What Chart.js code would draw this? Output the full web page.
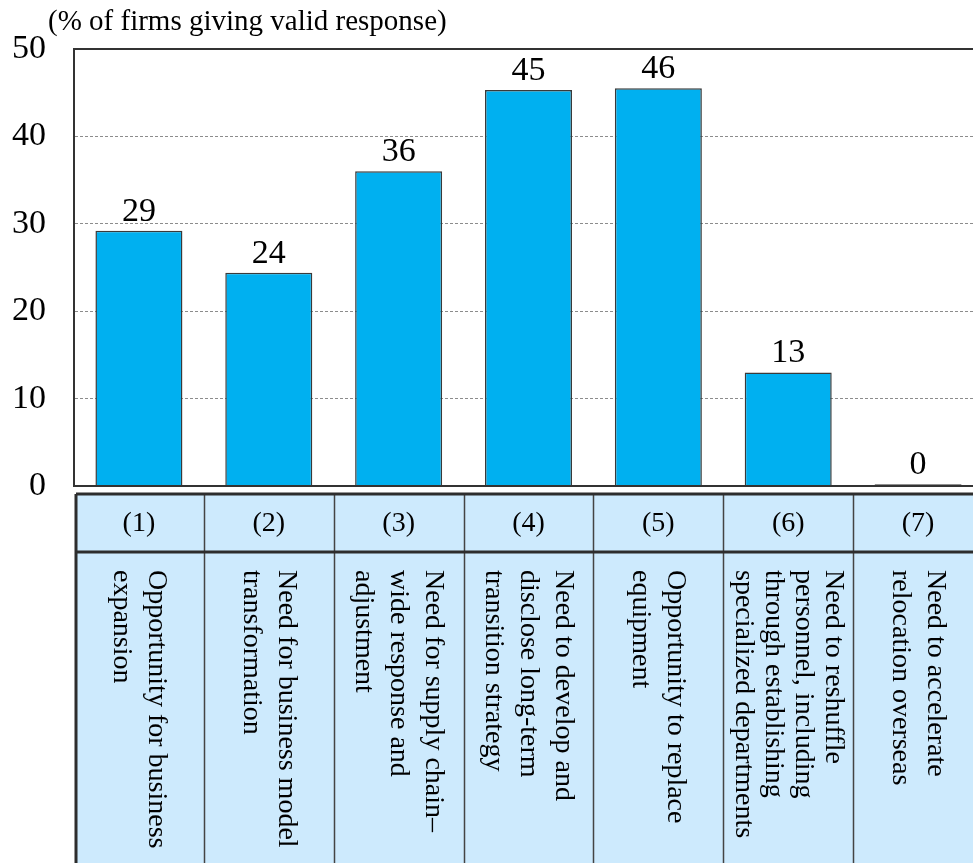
<!DOCTYPE html>
<html>
<head>
<meta charset="utf-8">
<script src="https://cdn.jsdelivr.net/npm/chart.js@4"></script>
<style>
  html, body { margin: 0; padding: 0; background: #fff; overflow: hidden; }
  canvas { display: block; }
</style>
</head>
<body>
<!-- wider than the window: the last column runs off the right edge -->
<canvas id="chart" width="983" height="863" style="width:983px;height:863px"></canvas>
<script>
const numbers = ['(1)', '(2)', '(3)', '(4)', '(5)', '(6)', '(7)'];
const reasons = [
  ['Opportunity for business', 'expansion'],
  ['Need for business model', 'transformation'],
  ['Need for supply chain–', 'wide response and', 'adjustment'],
  ['Need to develop and', 'disclose long-term', 'transition strategy'],
  ['Opportunity to replace', 'equipment'],
  ['Need to reshuffle', 'personnel, including', 'through establishing', 'specialized departments'],
  ['Need to accelerate', 'relocation overseas']
];
const shares = [29.2, 24.4, 36.0, 45.3, 45.5, 13.0, 0.2];
const yTicks = [0, 10, 20, 30, 40, 50];

const SERIF = '"Liberation Serif", "Times New Roman", serif';

// value labels above the bars, frame lines and the title
const decorations = {
  id: 'decorations',
  afterDatasetsDraw(chart) {
    const { ctx, chartArea: a } = chart;
    const meta = chart.getDatasetMeta(0);
    ctx.save();
    ctx.fillStyle = '#000';
    ctx.font = '34px ' + SERIF;
    ctx.textAlign = 'center';
    ctx.textBaseline = 'alphabetic';
    meta.data.forEach((bar, i) => {
      ctx.fillText(String(Math.round(shares[i])), bar.x, bar.y - 10);
    });

    ctx.strokeStyle = '#333';
    ctx.lineWidth = 2;
    ctx.beginPath();
    ctx.moveTo(a.left, a.top);
    ctx.lineTo(a.right, a.top);
    ctx.moveTo(a.left, a.bottom);
    ctx.lineTo(a.right, a.bottom);
    ctx.stroke();

    ctx.font = '29px ' + SERIF;
    ctx.textAlign = 'left';
    ctx.fillText('(% of firms giving valid response)', 48, 30);
    ctx.restore();
  }
};

// the category table under the plot
const categoryTable = {
  id: 'categoryTable',
  afterDraw(chart) {
    const { ctx, chartArea: a } = chart;
    const x = chart.scales.x;
    const colW = (x.right - x.left) / numbers.length;
    const top = a.bottom + 8;
    const mid = top + 58;
    const bottom = chart.height;
    const left = a.left + 2;
    const right = x.right;

    ctx.save();
    ctx.fillStyle = '#cdeafd';
    ctx.fillRect(left, top, right - left, bottom - top);

    ctx.strokeStyle = '#444';
    ctx.lineWidth = 1.5;
    ctx.beginPath();
    for (let i = 1; i < numbers.length; i++) {
      const cx = Math.round(x.left + i * colW) + 0.5;
      ctx.moveTo(cx, top);
      ctx.lineTo(cx, bottom);
    }
    ctx.stroke();

    ctx.strokeStyle = '#2d2d2d';
    ctx.lineWidth = 3;
    ctx.beginPath();
    ctx.moveTo(left, top);
    ctx.lineTo(right, top);
    ctx.moveTo(left, mid);
    ctx.lineTo(right, mid);
    ctx.moveTo(left, top);
    ctx.lineTo(left, bottom);
    ctx.stroke();

    ctx.fillStyle = '#000';
    ctx.font = '28px ' + SERIF;
    ctx.textAlign = 'center';
    ctx.textBaseline = 'middle';
    numbers.forEach((n, i) => {
      ctx.fillText(n, x.getPixelForValue(i), (top + mid) / 2 + 1);
    });

    ctx.font = '28px ' + SERIF;
    ctx.textAlign = 'left';
    reasons.forEach((lines, i) => {
      const cx = x.getPixelForValue(i);
      const step = lines.length > 1 ? Math.min(35, (colW - 40) / (lines.length - 1)) : 0;
      const first = cx + step * (lines.length - 1) / 2;
      lines.forEach((line, j) => {
        ctx.save();
        ctx.translate(first - j * step, mid + 18);
        ctx.rotate(Math.PI / 2);
        ctx.fillText(line, 0, 0);
        ctx.restore();
      });
    });
    ctx.restore();
  }
};

new Chart(document.getElementById('chart'), {
  type: 'bar',
  data: {
    labels: numbers,
    datasets: [{
      data: shares,
      backgroundColor: '#00b0f0',
      borderColor: '#3a3a3a',
      borderWidth: 1.5,
      barPercentage: 0.67,
      categoryPercentage: 1
    }]
  },
  options: {
    responsive: false,
    animation: false,
    devicePixelRatio: 1,
    layout: { padding: { top: 49, bottom: 377, left: 0, right: 0 } },
    plugins: { legend: { display: false }, tooltip: { enabled: false } },
    scales: {
      x: { display: false },
      y: {
        min: 0,
        max: 50,
        afterFit(scale) { scale.width = 74; },
        afterBuildTicks(scale) { scale.ticks = yTicks.map(v => ({ value: v })); },
        ticks: {
          color: '#000',
          padding: 28,
          font: { family: SERIF, size: 34 }
        },
        grid: {
          drawTicks: false,
          color: ctx => (ctx.tick && (ctx.tick.value === 0 || ctx.tick.value === 50)) ? 'rgba(0,0,0,0)' : '#8c8c8c',
          lineWidth: 1
        },
        border: { display: true, color: '#333', width: 2, dash: [3, 2] }
      }
    }
  },
  plugins: [decorations, categoryTable]
});
</script>
</body>
</html>
